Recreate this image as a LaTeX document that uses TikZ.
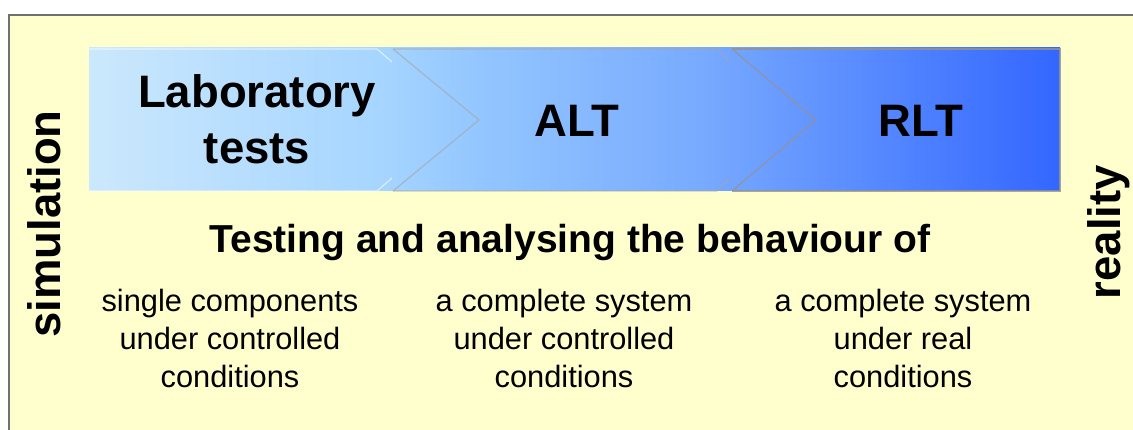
\documentclass[tikz,border=0pt]{standalone}
\usepackage{fontspec}
\setmainfont{Liberation Sans}
\definecolor{bgyellow}{HTML}{FFFFCE}
\definecolor{frame}{HTML}{707070}
\definecolor{bA}{HTML}{CBE8FD}
\definecolor{bB}{HTML}{A6D5FF}
\definecolor{bC}{HTML}{93C6FF}
\definecolor{bD}{HTML}{78AAFF}
\definecolor{bE}{HTML}{5588FF}
\definecolor{bF}{HTML}{3366FF}
\pgfdeclarehorizontalshading{band}{100bp}{color(0bp)=(bA); color(25bp)=(bA); color(40bp)=(bB); color(45.1bp)=(bC); color(56.5bp)=(bD); color(65.7bp)=(bE); color(75bp)=(bF); color(100bp)=(bF)}
\begin{document}
\begin{tikzpicture}[x=1pt,y=-1pt,
  big/.style={font=\fontsize{45.5}{56}\selectfont\bfseries, inner sep=0pt, anchor=base},
  side/.style={font=\fontsize{45.5}{54}\selectfont\bfseries, rotate=90, inner sep=0pt, anchor=base},
  head/.style={font=\fontsize{39}{46}\selectfont\bfseries, inner sep=0pt, anchor=base},
  cond/.style={font=\fontsize{30.8}{38}\selectfont, inner sep=0pt, anchor=base},
  lightedge/.style={draw=white, draw opacity=0.55, line width=1.3pt},
  midedge/.style={draw=gray!70, draw opacity=0.6, line width=1.3pt},
  darkedge/.style={draw=gray!85, draw opacity=0.8, line width=1.3pt}]
\useasboundingbox (0,0) rectangle (1133,430);
\fill[white] (0,0) rectangle (1133,430);
\fill[bgyellow] (9,15) rectangle (1140,440);
\draw[frame, line width=1.5pt] (9,440) -- (9,15) -- (1140,15);
% gradient band
\shade[shading=band] (89,48) rectangle (1060,191);
% segment outlines
\draw[lightedge] (89,49) -- (377,49) -- (392,62);
\draw[lightedge] (89,191) -- (377,191) -- (392,178);
\draw[midedge] (393,49) -- (479,120) -- (393,191);
\draw[midedge] (393,49) -- (717,49) -- (730,62);
\draw[midedge] (393,191) -- (717,191) -- (730,178);
\draw[darkedge] (732,49) -- (816,120) -- (732,191);
\draw[darkedge] (732,49) -- (1060,49) -- (1060,191) -- (732,191);
% band labels
\node[big] (lab1) at (257,108) {Laboratory};
\node[big] (lab2) at (257,164) {tests};
\node[big] (alt) at (577,137) {ALT};
\node[big] (rlt) at (921,137) {RLT};
% heading
\node[head] (head) at (570,253) {Testing and analysing the behaviour of};
% conditions
\node[cond] (c11) at (230,312) {single components};
\node[cond] (c12) at (230,350) {under controlled};
\node[cond] (c13) at (230,388) {conditions};
\node[cond] (c21) at (564,312) {a complete system};
\node[cond] (c22) at (564,350) {under controlled};
\node[cond] (c23) at (564,388) {conditions};
\node[cond] (c31) at (903,312) {a complete system};
\node[cond] (c32) at (903,350) {under real};
\node[cond] (c33) at (903,388) {conditions};
% side labels
\node[side] (sim) at (60,224) {simulation};
\node[side] (real) at (1120,232) {reality};
\end{tikzpicture}
\end{document}
